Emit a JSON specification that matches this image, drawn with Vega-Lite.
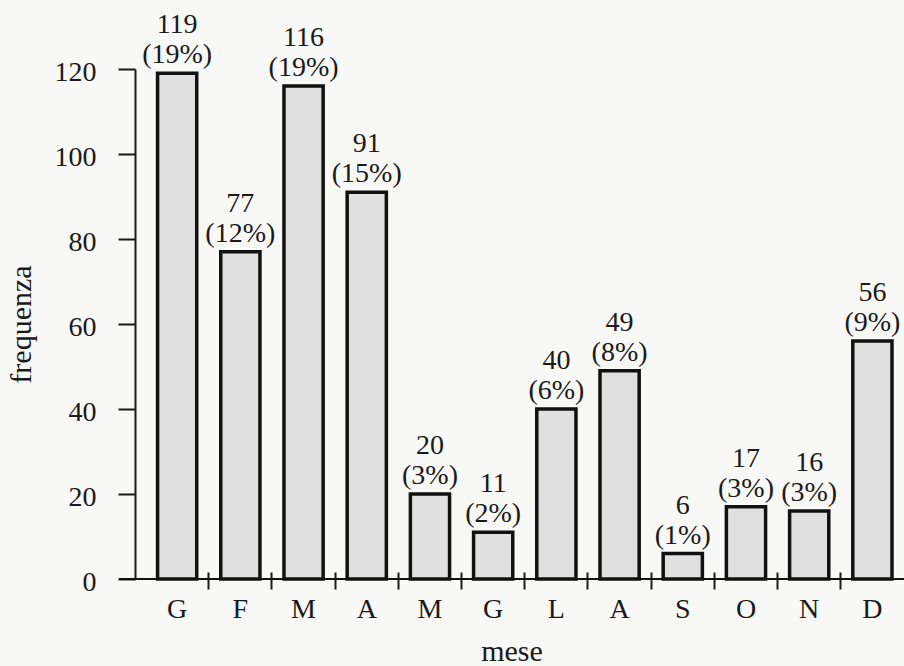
{
  "$schema": "https://vega.github.io/schema/vega-lite/v6.json",
  "autosize": {"type": "none"},
  "padding": {"left": 119, "top": 69, "right": 0, "bottom": 87},
  "width": 785,
  "height": 510,
  "background": "#f8f8f7",
  "config": {
    "view": {"stroke": null},
    "font": "Liberation Serif",
    "axis": {
      "labelFont": "Liberation Serif",
      "titleFont": "Liberation Serif",
      "labelColor": "#1a1a1a",
      "titleColor": "#1a1a1a",
      "domainColor": "#1a1a1a",
      "tickColor": "#1a1a1a",
      "grid": false,
      "titleFontWeight": "normal"
    }
  },
  "data": {
    "values": [
      {"mese": "G1", "freq": 119, "pct": 19},
      {"mese": "F", "freq": 77, "pct": 12},
      {"mese": "M1", "freq": 116, "pct": 19},
      {"mese": "A1", "freq": 91, "pct": 15},
      {"mese": "M2", "freq": 20, "pct": 3},
      {"mese": "G2", "freq": 11, "pct": 2},
      {"mese": "L", "freq": 40, "pct": 6},
      {"mese": "A2", "freq": 49, "pct": 8},
      {"mese": "S", "freq": 6, "pct": 1},
      {"mese": "O", "freq": 17, "pct": 3},
      {"mese": "N", "freq": 16, "pct": 3},
      {"mese": "D", "freq": 56, "pct": 9}
    ]
  },
  "layer": [
    {
      "mark": {"type": "bar", "width": {"band": 0.62}, "fill": "#e0e0e0", "stroke": "#111111", "strokeWidth": 3.5},
      "encoding": {
        "x": {
          "field": "mese",
          "type": "nominal",
          "sort": null,
          "scale": {"paddingInner": 0, "paddingOuter": 0.21, "align": 1},
          "axis": {
            "domain": false,
            "offset": -7,
            "tickSize": 17,
            "tickWidth": 2,
            "bandPosition": 0,
            "tickOpacity": {"condition": {"test": "datum.value === 'G1'", "value": 0}, "value": 1},
            "labelExpr": "substring(datum.value, 0, 1)",
            "labelAngle": 0,
            "labelPadding": 6,
            "labelFontSize": 28,
            "title": "mese",
            "titleFontSize": 30,
            "titlePadding": 13
          }
        },
        "y": {
          "field": "freq",
          "type": "quantitative",
          "scale": {"domain": [0, 120], "nice": false},
          "axis": {
            "offset": -16,
            "domainWidth": 2,
            "tickSize": 17,
            "tickWidth": 2,
            "labelPadding": 22,
            "labelFontSize": 28,
            "labelOffset": 3,
            "values": [0, 20, 40, 60, 80, 100, 120],
            "title": "frequenza",
            "titleFontSize": 30,
            "titlePadding": 18
          }
        }
      }
    },
    {
      "mark": {"type": "rule", "color": "#111111", "strokeWidth": 2},
      "encoding": {"y": {"datum": 0}}
    },
    {
      "transform": [{"calculate": "[toString(datum.freq), '(' + datum.pct + '%)']", "as": "lbl"}],
      "mark": {"type": "text", "baseline": "bottom", "dy": -34, "fontSize": 28, "lineHeight": 30, "color": "#1a1a1a"},
      "encoding": {
        "x": {"field": "mese", "type": "nominal", "sort": null},
        "y": {"field": "freq", "type": "quantitative"},
        "text": {"field": "lbl"}
      }
    }
  ]
}
